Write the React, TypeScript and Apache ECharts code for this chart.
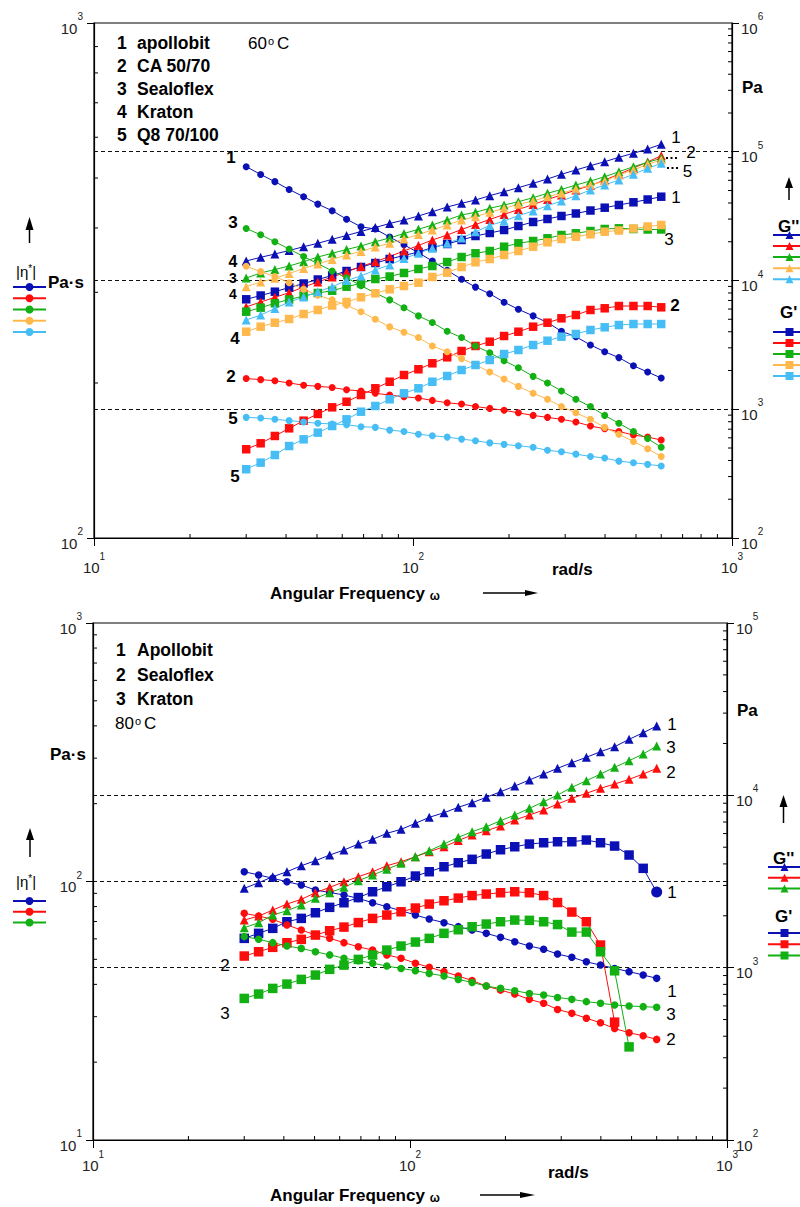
import React, { useEffect, useRef } from 'react';
import * as echarts from 'echarts';

// ---------------- data ----------------
const FREQ = [30, 33.3, 36.9, 40.9, 45.4, 50.3, 55.8, 61.9, 68.7, 76.2, 84.5, 93.7, 104, 115, 128, 142, 157, 174, 193, 214, 238, 264, 292, 324, 360, 399, 442, 491, 544, 600];

// 60 °C  |eta*| (Pa·s)
const ETA60_APOLLOBIT = [526, 508, 492, 475, 460, 445, 432, 416, 402, 398, 384, 371, 358, 345, 331, 318, 307, 298, 287, 278, 270, 262, 252, 246, 237, 230, 224, 216, 210, 204.5];
const ETA60_CA5070 = [204, 203, 202, 200, 198, 197, 196, 194, 193, 191, 189.5, 188, 187, 185, 183, 182, 180, 178.5, 177, 175, 173, 171.5, 170, 168, 165, 163, 161, 158.5, 157, 155];
const ETA60_SEALOFLEX = [399, 388, 376, 364, 352, 341, 330, 320, 309, 299, 290, 280, 270, 262, 252, 245, 236, 229, 221, 214, 206, 200, 193, 186, 180, 173, 167, 161, 156, 150];
const ETA60_KRATON = [337, 329, 322, 313, 304, 296, 290, 283, 275, 266, 257, 251, 245, 236, 230, 223, 217, 210, 203.5, 197, 191, 186, 180, 175, 170, 164, 159, 154, 149, 144];
const ETA60_Q8 = [171.5, 171, 170, 169, 168, 167, 166.5, 166, 164.5, 164, 162, 161, 159, 158, 157, 155.6, 154.5, 153, 152, 151, 150, 148, 147, 145.5, 144, 143, 141, 140, 139, 138];

// 60 °C  G'' (Pa)
const GPP60_APOLLOBIT = [14170, 15140, 16060, 17100, 18300, 19450, 20890, 22360, 24030, 25800, 27720, 29500, 31700, 34220, 37230, 39780, 42200, 45560, 48940, 52590, 56870, 61420, 66800, 72170, 77910, 83700, 90550, 97280, 105000, 114300];
const GPP60_CA5070 = [6228, 6808, 7405, 8037, 8903, 9734, 10650, 11640, 12850, 14000, 15360, 16950, 18700, 20640, 22560, 24890, 27230, 29770, 32560, 35610, 38940, 42580, 46150, 50460, 54690, 60340, 66800, 74790, 83260, 93180];
const GPP60_SEALOFLEX = [10460, 11440, 12170, 12960, 14000, 15220, 16270, 17410, 18540, 20020, 21380, 23180, 24990, 26990, 29500, 32270, 33870, 36370, 38590, 40930, 43970, 47570, 50910, 55170, 59270, 64000, 69980, 76550, 82820, 88940];
const GPP60_KRATON = [8950, 9730, 10400, 11330, 12390, 13430, 14560, 15780, 16800, 18200, 19450, 21010, 22770, 24670, 26990, 29500, 31300, 33870, 36370, 39070, 41450, 44760, 47570, 51370, 55170, 59270, 65970, 72170, 79880, 86280];
const GPP60_Q8 = [4934, 5395, 6060, 6808, 7444, 8185, 8950, 10000, 10840, 12070, 13200, 14820, 16270, 17790, 19450, 21380, 23930, 26740, 28980, 31870, 34650, 38110, 41450, 45560, 50460, 55170, 60340, 66800, 74370, 81330];

// 60 °C  G' (Pa)
const GP60_APOLLOBIT = [7145, 7645, 8185, 8823, 9478, 10180, 10940, 11850, 12730, 13670, 14690, 15640, 16650, 18040, 19210, 20640, 22160, 23390, 24670, 26500, 28480, 30040, 31700, 33150, 34960, 36760, 38590, 40500, 42580, 44760];
const GP60_CA5070 = [489, 544, 620, 711, 815, 919, 1035, 1144, 1290, 1455, 1636, 1845, 2044, 2275, 2532, 2834, 3100, 3347, 3706, 4002, 4378, 4701, 5086, 5395, 5902, 6084, 6337, 6337, 6337, 6191];
const GP60_SEALOFLEX = [5724, 6148, 6651, 7119, 7578, 7994, 8330, 8950, 9513, 10270, 10740, 11440, 12290, 12960, 13920, 15220, 16270, 16950, 18300, 19450, 20270, 21270, 22560, 23260, 24240, 25120, 25430, 25120, 24900, 24900];
const GP60_KRATON = [4002, 4378, 4701, 5023, 5493, 5902, 6394, 6808, 7405, 7952, 8543, 9064, 9614, 10650, 11500, 12730, 13850, 14690, 15780, 16950, 18300, 19800, 21010, 21890, 22850, 23930, 24450, 25340, 26270, 26990];
const GP60_Q8 = [342, 385, 441, 518, 584, 658, 741, 835, 957, 1060, 1195, 1330, 1455, 1636, 1813, 2018, 2207, 2413, 2686, 2885, 3155, 3407, 3660, 3842, 4126, 4330, 4511, 4592, 4592, 4592];

// 80 °C  |eta*| (Pa·s)
const ETA80_APOLLOBIT = [109.1, 106.0, 102.9, 99.8, 96.9, 92.7, 90.7, 88.7, 86.0, 82.8, 79.9, 77.1, 74.2, 71.6, 69.3, 66.9, 64.9, 63.0, 60.8, 58.5, 56.3, 54.7, 52.4, 50.9, 48.9, 47.5, 46.1, 44.8, 43.5, 42.2];
const ETA80_SEALOFLEX = [75.3, 73.5, 71.4, 67.9, 64.9, 62.1, 60.3, 58.0, 55.9, 54.3, 52.0, 50.5, 48.3, 46.6, 44.8, 43.1, 41.4, 39.4, 38.0, 36.7, 35.0, 33.8, 32.0, 30.9, 29.6, 28.4, 27.0, 26.0, 25.3, 24.5];
const ETA80_KRATON = [61.2, 59.8, 58.0, 56.3, 55.1, 53.5, 52.0, 50.5, 49.4, 48.3, 47.1, 46.1, 45.2, 44.1, 43.1, 41.8, 40.7, 39.4, 38.6, 37.8, 36.9, 36.4, 35.6, 35.0, 34.3, 33.8, 33.3, 33.0, 32.8, 32.6];

// 80 °C  G'' (Pa)
const GPP80_APOLLOBIT = [2886, 3110, 3370, 3603, 3904, 4173, 4504, 4814, 5217, 5553, 6018, 6348, 6877, 7453, 7926, 8519, 9058, 9736, 10490, 11320, 12270, 13290, 14340, 15460, 16620, 17910, 19150, 21130, 23080, 25250];
const GPP80_SEALOFLEX = [1889, 1993, 2159, 2339, 2491, 2721, 2924, 3151, 3370, 3603, 3904, 4118, 4403, 4707, 5031, 5466, 5884, 6230, 6635, 7187, 7688, 8216, 8902, 9607, 10270, 10980, 11630, 12380, 13290, 14340];
const GPP80_KRATON = [1705, 1822, 2020, 2139, 2308, 2525, 2721, 2924, 3194, 3447, 3720, 4030, 4403, 4770, 5217, 5705, 6150, 6574, 7121, 7688, 8403, 9180, 10040, 11130, 12150, 13290, 14540, 15880, 17370, 19330];

// 80 °C  G' (Pa)
const GP80_APOLLOBIT = [1479, 1582, 1691, 1847, 1932, 2083, 2239, 2381, 2552, 2757, 2948, 3151, 3401, 3603, 3852, 4064, 4253, 4565, 4834, 5031, 5217, 5308, 5379, 5379, 5503, 5308, 5078, 4504, 3770, 2747];
const GP80_SEALOFLEX = [1168, 1237, 1312, 1395, 1460, 1546, 1638, 1720, 1827, 1932, 2020, 2110, 2218, 2339, 2445, 2534, 2621, 2674, 2721, 2757, 2721, 2621, 2387, 2102, 1847, 1353, 483];
const GP80_KRATON = [663, 703, 758, 803, 855, 906, 978, 1035, 1117, 1184, 1265, 1335, 1408, 1479, 1582, 1660, 1728, 1791, 1847, 1889, 1882, 1847, 1779, 1609, 1609, 1237, 959, 347];

const NAMES60 = ['apollobit', 'CA 50/70', 'Sealoflex', 'Kraton', 'Q8 70/100'];
const NAMES80 = ['Apollobit', 'Sealoflex', 'Kraton'];

// axis tick structure
const MINOR_MULT = [2, 3, 4, 5, 6, 7, 8, 9];
const X_DECADES = [10, 100];
const Y60_LEFT_DECADES = [100];
const Y60_RIGHT_DECADES = [100, 1000, 10000, 100000];
const Y80_LEFT_DECADES = [10, 100];
const Y80_RIGHT_DECADES = [100, 1000, 10000];

// ---------------- styling ----------------
const FONT = "'Liberation Sans', Arial, Helvetica, sans-serif";
const BLUE = '#0B10B4';
const RED = '#FF0D0D';
const GREEN = '#12B012';
const ORANGE = '#FFB84C';
const CYAN = '#46BEF5';
const COLORS60 = [BLUE, RED, GREEN, ORANGE, CYAN];
const COLORS80 = [BLUE, RED, GREEN];

function pairs(ys: number[]) {
  return ys.map((v, i) => [FREQ[i], v]);
}

function lineSeries(name: string, data: any[], color: string, symbol: string, size: number, xi: number, yi: number) {
  return {
    type: 'line',
    name,
    data,
    xAxisIndex: xi,
    yAxisIndex: yi,
    symbol,
    symbolSize: size,
    showSymbol: true,
    showAllSymbol: true,
    color,
    itemStyle: { color },
    lineStyle: { color, width: 1 },
    emphasis: { disabled: true },
    silent: true,
    animation: false,
  };
}

function minorOf(decades: number[]) {
  const out: number[] = [];
  decades.forEach((d) => MINOR_MULT.forEach((m) => out.push(m * d)));
  return out;
}

function tickSeries(data: number[][], dx: number, dy: number, xi: number, yi: number) {
  return {
    type: 'custom',
    coordinateSystem: 'cartesian2d',
    xAxisIndex: xi,
    yAxisIndex: yi,
    data,
    encode: { x: 0, y: 1 },
    silent: true,
    clip: false,
    z: 10,
    renderItem: (params: any, api: any) => {
      const p = api.coord([api.value(0), api.value(1)]);
      return {
        type: 'line',
        shape: { x1: p[0], y1: p[1], x2: p[0] + dx, y2: p[1] + dy },
        style: { stroke: '#000', lineWidth: 1 },
      };
    },
  };
}

const supFormatter = (v: number) => `{b|10}{s|${Math.round(Math.log10(v))}}`;
const labelRich = {
  b: { fontSize: 15, padding: [10, 0, 0, 0], fontFamily: FONT, color: '#222' },
  s: { fontSize: 10, verticalAlign: 'top', padding: [1, 0, 0, 0], fontFamily: FONT, color: '#222' },
};

function xAxisDef(gridIndex: number, margin: number) {
  return {
    gridIndex,
    type: 'log',
    logBase: 10,
    min: 10,
    max: 1000,
    axisLine: { show: true, lineStyle: { color: '#000', width: 1.2 } },
    axisTick: { show: true, inside: false, length: 8, lineStyle: { color: '#000', width: 1 } },
    axisLabel: { show: true, formatter: supFormatter, rich: labelRich, margin, color: '#222', fontSize: 15, fontFamily: FONT, showMinLabel: true, showMaxLabel: true },
    splitLine: { show: false },
  };
}

function yAxisDef(gridIndex: number, min: number, max: number, position: string, margin: number) {
  return {
    gridIndex,
    type: 'log',
    logBase: 10,
    min,
    max,
    position,
    axisLine: { show: true, onZero: false, lineStyle: { color: '#000', width: 1.2 } },
    axisTick: { show: true, inside: false, length: 7, lineStyle: { color: '#000', width: 1 } },
    axisLabel: { show: true, formatter: supFormatter, rich: labelRich, margin, color: '#222', fontSize: 15, fontFamily: FONT, showMinLabel: true, showMaxLabel: true },
    splitLine: { show: true, showMinLine: false, showMaxLine: false, lineStyle: { color: '#111', width: 1.2, type: [4, 3] } },
  };
}

function txt(x: number, y: number, text: string, opt: any = {}) {
  return {
    type: 'text',
    x,
    y,
    silent: true,
    z: 20,
    style: {
      text,
      fill: '#000',
      fontSize: opt.size || 17,
      fontWeight: opt.bold ? 'bold' : 'normal',
      fontFamily: FONT,
      textAlign: opt.align || 'left',
      textVerticalAlign: 'middle',
      rich: opt.rich,
    },
  };
}

function vArrow(x: number, yTop: number, yBottom: number, headH: number) {
  return [
    { type: 'line', silent: true, shape: { x1: x, y1: yTop + headH - 1, x2: x, y2: yBottom }, style: { stroke: '#000', lineWidth: 1.5 } },
    { type: 'polygon', silent: true, shape: { points: [[x - 4, yTop + headH], [x + 4, yTop + headH], [x, yTop]] }, style: { fill: '#000' } },
  ];
}

function hArrow(x1: number, x2: number, y: number, headW: number) {
  return [
    { type: 'line', silent: true, shape: { x1, y1: y, x2: x2 - headW + 1, y2: y }, style: { stroke: '#000', lineWidth: 1.5 } },
    { type: 'polygon', silent: true, shape: { points: [[x2 - headW, y - 3], [x2 - headW, y + 3], [x2, y]] }, style: { fill: '#000' } },
  ];
}

function dots(x: number, y: number) {
  return [0, 1, 2].map((k) => ({ type: 'rect', silent: true, shape: { x: x + k * 4.5, y: y - 1, width: 2, height: 2 }, style: { fill: '#000' } }));
}

const degRich = {
  n: { fontSize: 17, fontFamily: FONT, color: '#000' },
  o: { fontSize: 11, fontFamily: FONT, color: '#000', verticalAlign: 'top', padding: [0, 3, 0, 1] },
};
const etaRich = {
  n: { fontSize: 15, fontFamily: FONT, color: '#000' },
  s: { fontSize: 10, fontFamily: FONT, color: '#000', verticalAlign: 'top' },
};
const freqRich = {
  a: { fontSize: 17, fontWeight: 'bold', fontFamily: FONT, color: '#000' },
  w: { fontSize: 12, fontWeight: 'bold', fontFamily: FONT, color: '#000', verticalAlign: 'bottom' },
};

// curve number labels: [x, y, text, bold, size]
const CURVE_LABELS: any[] = [
  [231, 157.5, '1', true, 17], [233, 222, '3', true, 17],
  [233, 261.5, '4', true, 16], [233, 278, '3', true, 14], [233, 294, '4', true, 14],
  [235, 338, '4', true, 17], [231, 376.7, '2', true, 17], [233, 418, '5', true, 17], [235, 476.7, '5', true, 17],
  [676, 137, '1', false, 17], [691, 152.5, '2', false, 17], [687.5, 171.7, '5', false, 17], [676, 197, '1', false, 17], [669, 239, '3', false, 17], [675, 305, '2', true, 17],
  [672, 724, '1', false, 17], [671, 747.5, '3', false, 17], [671, 772.5, '2', false, 17], [672, 892.5, '1', false, 17],
  [672, 991, '1', false, 17], [671, 1014, '3', false, 17], [671, 1039, '2', false, 17],
  [225, 965, '2', false, 17], [225, 1013, '3', false, 17],
];

function buildOption() {
  const eta60 = [ETA60_APOLLOBIT, ETA60_CA5070, ETA60_SEALOFLEX, ETA60_KRATON, ETA60_Q8];
  const gpp60 = [GPP60_APOLLOBIT, GPP60_CA5070, GPP60_SEALOFLEX, GPP60_KRATON, GPP60_Q8];
  const gp60 = [GP60_APOLLOBIT, GP60_CA5070, GP60_SEALOFLEX, GP60_KRATON, GP60_Q8];
  const eta80 = [ETA80_APOLLOBIT, ETA80_SEALOFLEX, ETA80_KRATON];
  const gpp80 = [GPP80_APOLLOBIT, GPP80_SEALOFLEX, GPP80_KRATON];
  const gp80 = [GP80_APOLLOBIT, GP80_SEALOFLEX, GP80_KRATON];

  const series: any[] = [];
  const legEta60: string[] = [], legGpp60: string[] = [], legGp60: string[] = [];
  const legEta80: string[] = [], legGpp80: string[] = [], legGp80: string[] = [];

  NAMES60.forEach((nm, k) => {
    const n1 = `|η*| ${nm} 60°C`, n2 = `G'' ${nm} 60°C`, n3 = `G' ${nm} 60°C`;
    legEta60.push(n1); legGpp60.push(n2); legGp60.push(n3);
    series.push(lineSeries(n1, pairs(eta60[k]), COLORS60[k], 'circle', 7, 0, 0));
    series.push(lineSeries(n2, pairs(gpp60[k]), COLORS60[k], 'triangle', 9, 0, 1));
    series.push(lineSeries(n3, pairs(gp60[k]), COLORS60[k], 'rect', 8.5, 0, 1));
  });

  NAMES80.forEach((nm, k) => {
    const n1 = `|η*| ${nm} 80°C`, n2 = `G'' ${nm} 80°C`, n3 = `G' ${nm} 80°C`;
    legEta80.push(n1); legGpp80.push(n2); legGp80.push(n3);
    series.push(lineSeries(n1, pairs(eta80[k]), COLORS80[k], 'circle', 7.5, 1, 2));
    series.push(lineSeries(n2, pairs(gpp80[k]), COLORS80[k], 'triangle', 9, 1, 3));
    const gd: any[] = pairs(gp80[k]);
    if (k === 0) {
      const last = gd.length - 1;
      gd[last] = { value: gd[last], symbol: 'circle', symbolSize: 11 };
    }
    series.push(lineSeries(n3, gd, COLORS80[k], 'rect', 9.5, 1, 3));
  });

  // minor ticks (drawn through the axes' own log scales)
  series.push(tickSeries(minorOf(X_DECADES).map((v) => [v, 100]), 0, -4, 0, 0));
  series.push(tickSeries(minorOf(Y60_LEFT_DECADES).map((v) => [10, v]), 4, 0, 0, 0));
  series.push(tickSeries(minorOf(Y60_RIGHT_DECADES).map((v) => [1000, v]), -4, 0, 0, 1));
  series.push(tickSeries(minorOf(X_DECADES).map((v) => [v, 10]), 0, -4, 1, 2));
  series.push(tickSeries(minorOf(Y80_LEFT_DECADES).map((v) => [10, v]), 4, 0, 1, 2));
  series.push(tickSeries(minorOf(Y80_RIGHT_DECADES).map((v) => [1000, v]), -4, 0, 1, 3));

  const legendBase = {
    orient: 'vertical',
    itemWidth: 33,
    itemHeight: 10,
    padding: 0,
    selectedMode: false,
    formatter: () => '',
    textStyle: { fontSize: 6, lineHeight: 6 },
  };

  const graphic: any[] = [];
  // top chart text box
  NAMES60.forEach((nm, k) => {
    const y = 43 + k * 22.9;
    graphic.push(txt(117, y, String(k + 1), { bold: true, size: 17.5 }));
    graphic.push(txt(137, y, nm, { bold: true, size: 17.5 }));
  });
  graphic.push(txt(248, 43.5, '{n|60}{o|o}{n|C}', { rich: degRich }));
  // bottom chart text box
  NAMES80.forEach((nm, k) => {
    const y = 650 + k * 24.5;
    graphic.push(txt(116, y, String(k + 1), { bold: true, size: 17.5 }));
    graphic.push(txt(137, y, nm, { bold: true, size: 17.5 }));
  });
  graphic.push(txt(115, 723.5, '{n|80}{o|o}{n|C}', { rich: degRich }));

  // axis titles
  graphic.push(txt(48, 282, 'Pa·s', { bold: true, size: 17 }));
  graphic.push(txt(16, 271, '{n||η}{s|*}{n||}', { rich: etaRich }));
  graphic.push(txt(742, 87.5, 'Pa', { bold: true, size: 17 }));
  graphic.push(txt(778, 226, "G''", { bold: true, size: 17 }));
  graphic.push(txt(780, 312, "G'", { bold: true, size: 17 }));
  graphic.push(txt(270, 593, '{a|Angular Frequency }{w|ω}', { rich: freqRich }));
  graphic.push(txt(552, 569, 'rad/s', { bold: true, size: 17 }));

  graphic.push(txt(50, 754, 'Pa·s', { bold: true, size: 17 }));
  graphic.push(txt(16, 881, '{n||η}{s|*}{n||}', { rich: etaRich }));
  graphic.push(txt(737, 710, 'Pa', { bold: true, size: 17 }));
  graphic.push(txt(773, 858, "G''", { bold: true, size: 17 }));
  graphic.push(txt(775, 916, "G'", { bold: true, size: 17 }));
  graphic.push(txt(270, 1195, '{a|Angular Frequency }{w|ω}', { rich: freqRich }));
  graphic.push(txt(548, 1172, 'rad/s', { bold: true, size: 17 }));

  // arrows
  graphic.push(...vArrow(29.5, 217, 243, 13));
  graphic.push(...vArrow(789, 177, 200, 11));
  graphic.push(...vArrow(30, 828, 857, 12));
  graphic.push(...vArrow(783.5, 795, 823, 12));
  graphic.push(...hArrow(483, 538, 593, 13));
  graphic.push(...hArrow(480, 535, 1195, 15));

  // curve number labels
  CURVE_LABELS.forEach(([x, y, t, b, s]) => graphic.push(txt(x, y, t, { bold: b, align: 'center', size: s })));
  // dotted leaders
  graphic.push(...dots(666, 158));
  graphic.push(...dots(667, 168));

  return {
    animation: false,
    backgroundColor: '#fff',
    textStyle: { fontFamily: FONT },
    grid: [
      { left: 94, top: 23, width: 638, height: 515, show: true, borderColor: '#000', borderWidth: 1.2, backgroundColor: 'transparent', containLabel: false, outerBoundsMode: 'none' },
      { left: 93, top: 623, width: 634, height: 517, show: true, borderColor: '#000', borderWidth: 1.2, backgroundColor: 'transparent', containLabel: false, outerBoundsMode: 'none' },
    ],
    xAxis: [xAxisDef(0, 12), xAxisDef(1, 8)],
    yAxis: [
      yAxisDef(0, 100, 1000, 'left', 11),
      yAxisDef(0, 100, 1000000, 'right', 9),
      yAxisDef(1, 10, 1000, 'left', 11),
      yAxisDef(1, 100, 100000, 'right', 9),
    ],
    legend: [
      { ...legendBase, data: legEta60, left: 12, top: 283, itemGap: 3.25 },
      { ...legendBase, data: legGpp60, left: 772, top: 231, itemGap: 3.05 },
      { ...legendBase, data: legGp60, left: 772, top: 328, itemGap: 3 },
      { ...legendBase, data: legEta80, left: 12, top: 897, itemGap: 2.75 },
      { ...legendBase, data: legGpp80, left: 767, top: 863, itemGap: 2.75 },
      { ...legendBase, data: legGp80, left: 767, top: 929, itemGap: 3.25 },
    ],
    series,
    graphic,
  };
}

export default function App() {
  const ref = useRef<HTMLDivElement>(null);
  useEffect(() => {
    if (!ref.current) return;
    const chart = echarts.init(ref.current, null, { renderer: 'svg' });
    chart.setOption(buildOption() as any);
    return () => chart.dispose();
  }, []);
  return <div ref={ref} style={{ position: 'absolute', left: 0, top: 0, width: 800, height: 1207, background: '#fff' }} />;
}
